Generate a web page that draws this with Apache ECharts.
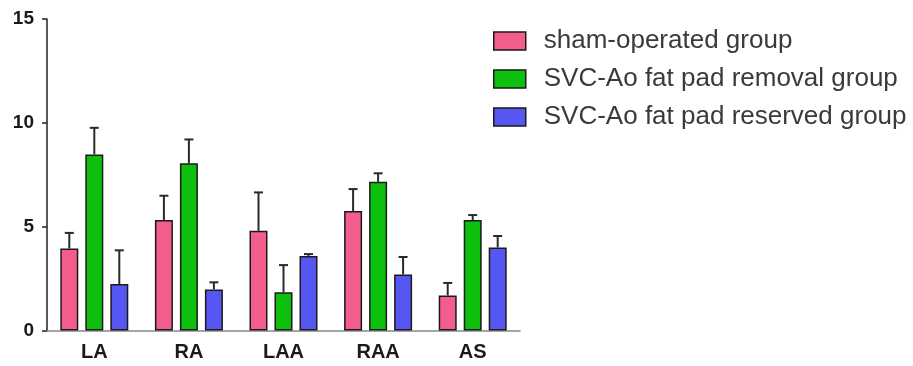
<!DOCTYPE html>
<html>
<head>
<meta charset="utf-8">
<script src="https://cdn.jsdelivr.net/npm/echarts@6/dist/echarts.min.js"></script>
<style>html,body{margin:0;padding:0;background:#fff}#c{width:913px;height:366px}</style>
</head>
<body>
<div id="c"></div>
<script>
var categories = ['LA', 'RA', 'LAA', 'RAA', 'AS'];
var seriesNames = ['sham-operated group', 'SVC-Ao fat pad removal group', 'SVC-Ao fat pad reserved group'];
var shamValues = [3.95, 5.32, 4.8, 5.75, 1.69];
var shamErrors = [0.75, 1.17, 1.85, 1.06, 0.6];
var removalValues = [8.48, 8.05, 1.84, 7.16, 5.32];
var removalErrors = [1.28, 1.15, 1.31, 0.41, 0.24];
var reservedValues = [2.24, 1.98, 3.59, 2.7, 4.0];
var reservedErrors = [1.62, 0.34, 0.09, 0.84, 0.55];
var yTicks = [0, 5, 10, 15];

var colors = ['#f25d8c', '#0dc00d', '#5656f2'];
var BAR_W = 18, STEP = 25;
var FONT = 'Liberation Sans, Arial, sans-serif';

var chart = echarts.init(document.getElementById('c'), null, {renderer: 'canvas'});

function errSeries(idx, values, errors) {
  var data = values.map(function (v, i) { return [i, v, v + errors[i]]; });
  return {
    type: 'custom',
    z: 5,
    silent: true,
    renderItem: function (params, api) {
      var i = api.value(0);
      var lo = api.coord([i, api.value(1)]);
      var hi = api.coord([i, api.value(2)]);
      var x = lo[0] + (idx - 1) * STEP;
      var cap = 4.5;
      return {
        type: 'group',
        children: [
          {type: 'line', shape: {x1: x, y1: lo[1], x2: x, y2: hi[1]}, style: {stroke: '#2a2a2a', lineWidth: 2}},
          {type: 'line', shape: {x1: x - cap, y1: hi[1], x2: x + cap, y2: hi[1]}, style: {stroke: '#2a2a2a', lineWidth: 2}}
        ]
      };
    },
    data: data
  };
}

function barSeries(idx, values) {
  return {
    name: seriesNames[idx],
    type: 'bar',
    barWidth: BAR_W,
    barGap: ((STEP - BAR_W) / BAR_W * 100) + '%',
    itemStyle: {color: colors[idx], borderColor: '#1a1a1a', borderWidth: 1.5},
    data: values,
    z: 3
  };
}

var option = {
  animation: false,
  backgroundColor: '#ffffff',
  grid: {left: 47, right: 393, top: 19, bottom: 35.5},
  legend: {
    orient: 'vertical',
    left: 488,
    top: 23,
    itemWidth: 32,
    itemHeight: 18,
    itemGap: 12,
    icon: 'rect',
    textStyle: {fontFamily: FONT, fontSize: 26, color: '#3a3a3a', padding: [0, 0, 0, 13]},
    itemStyle: {borderColor: '#1a1a1a', borderWidth: 1.5},
    data: seriesNames
  },
  xAxis: {
    type: 'category',
    data: categories,
    axisLine: {lineStyle: {color: '#888', width: 1.5}},
    axisTick: {alignWithLabel: true, length: 5, lineStyle: {color: '#333', width: 1.5}},
    axisLabel: {fontFamily: FONT, fontWeight: 'bold', fontSize: 20, color: '#1a1a1a', margin: 12}
  },
  yAxis: {
    type: 'value',
    min: 0,
    max: 15,
    interval: 5,
    splitLine: {show: false},
    axisLine: {show: true, lineStyle: {color: '#222', width: 1.5}},
    axisTick: {show: true, length: 5, lineStyle: {color: '#222', width: 1.5}},
    axisLabel: {fontFamily: FONT, fontWeight: 'bold', fontSize: 19, color: '#1a1a1a', margin: 13,
      formatter: function (v) { return yTicks.indexOf(v) >= 0 ? String(v) : ''; }}
  },
  series: [
    barSeries(0, shamValues),
    barSeries(1, removalValues),
    barSeries(2, reservedValues),
    errSeries(0, shamValues, shamErrors),
    errSeries(1, removalValues, removalErrors),
    errSeries(2, reservedValues, reservedErrors)
  ]
};
chart.setOption(option);
</script>
</body>
</html>
